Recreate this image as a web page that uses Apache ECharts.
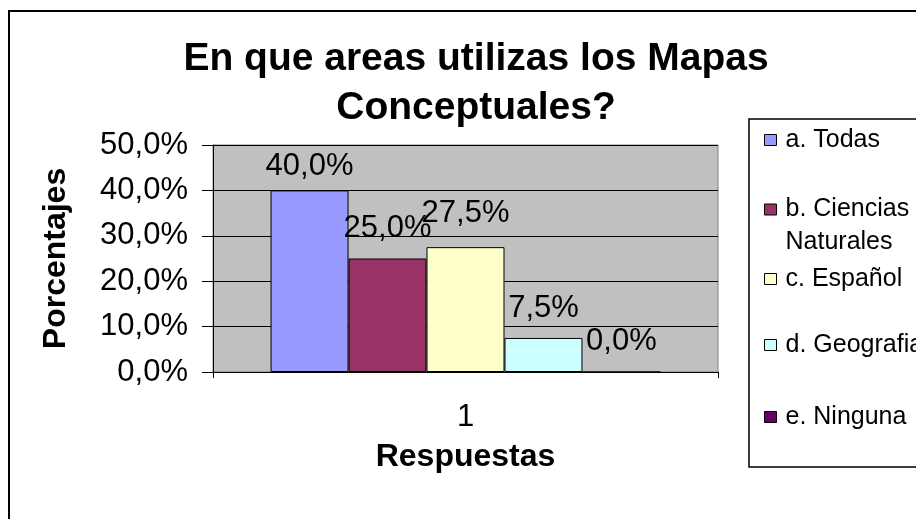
<!DOCTYPE html>
<html>
<head>
<meta charset="utf-8">
<script src="https://cdn.jsdelivr.net/npm/echarts@6/dist/echarts.min.js"></script>
<style>
  html, body { margin: 0; padding: 0; background: #fff; }
  #chart { width: 916px; height: 519px; }
</style>
</head>
<body>
<div id="chart"></div>
<script>
// datos
const categories = ['1']
const seriesNames = ['a. Todas', 'b. Ciencias\nNaturales', 'c. Español', 'd. Geografia', 'e. Ninguna']
const seriesValues = [40, 25, 27.5, 7.5, 0]
const seriesColors = ['#9999FF', '#993366', '#FFFFCC', '#CCFFFF', '#660066']
const yTicks = [0, 10, 20, 30, 40, 50]

const FONT = '"Liberation Sans", Arial, sans-serif'
const fmt = v => v.toFixed(1).replace('.', ',') + '%'

const myChart = echarts.init(document.getElementById('chart'))

// posicion vertical de cada entrada de la leyenda
const legendTops = [121, 155, 260, 326, 398]
// separacion de las etiquetas sobre cada barra
const labelDist = [8, 15, 18, 14, 15]

const series = seriesNames.map((name, i) => ({
  name: name,
  type: 'bar',
  data: [seriesValues[i]],
  barGap: '0%',
  barCategoryGap: '22.8%',
  itemStyle: { color: seriesColors[i], borderColor: '#000', borderWidth: 1 },
  label: {
    show: true,
    position: 'top',
    distance: labelDist[i],
    fontFamily: FONT,
    fontSize: 31,
    color: '#000',
    formatter: p => fmt(p.value)
  }
}))

// una leyenda por serie para poder separar las entradas como en el original
const legends = seriesNames.map((name, i) => {
  const twoLines = name.indexOf('\n') >= 0
  return {
    data: [name],
    left: 759,
    top: legendTops[i],
    orient: 'vertical',
    icon: 'rect',
    itemWidth: 12,
    itemHeight: 11,
    itemStyle: { borderColor: '#000', borderWidth: 1 },
    selectedMode: false,
    // linea vacia arriba para que el icono quede junto a la primera linea
    formatter: n => twoLines ? '\n' + n : n,
    textStyle: {
      fontFamily: FONT,
      fontSize: 25,
      color: '#000',
      lineHeight: twoLines ? 33 : 28,
      padding: [0, 0, 0, 4]
    }
  }
})

const option = {
  animation: false,
  backgroundColor: '#fff',
  title: {
    text: 'En que areas utilizas los Mapas\nConceptuales?',
    left: 471,
    top: 30,
    textAlign: 'center',
    textStyle: {
      fontFamily: FONT,
      fontSize: 39,
      fontWeight: 'bold',
      color: '#000',
      lineHeight: 49
    }
  },
  legend: legends,
  grid: {
    left: 213,
    right: 198,
    top: 145,
    bottom: 147,
    show: true,
    backgroundColor: '#C0C0C0',
    borderColor: '#808080',
    borderWidth: 1
  },
  xAxis: {
    type: 'category',
    data: categories,
    name: 'Respuestas',
    nameLocation: 'middle',
    nameGap: 69,
    nameTextStyle: { fontFamily: FONT, fontSize: 32, fontWeight: 'bold', color: '#000' },
    axisLine: { lineStyle: { color: '#000', width: 1 } },
    axisTick: { show: true, length: 6, lineStyle: { color: '#000' } },
    axisLabel: { fontFamily: FONT, fontSize: 31, color: '#000', margin: 30 }
  },
  yAxis: {
    type: 'value',
    min: yTicks[0],
    max: yTicks[yTicks.length - 1],
    interval: 10,
    name: 'Porcentajes',
    nameLocation: 'middle',
    nameRotate: 90,
    nameGap: 141,
    nameTextStyle: { fontFamily: FONT, fontSize: 32, fontWeight: 'bold', color: '#000' },
    axisLine: { show: true, lineStyle: { color: '#000', width: 1 } },
    axisTick: { show: true, length: 11, lineStyle: { color: '#000' } },
    splitLine: { show: true, lineStyle: { color: '#000', width: 1 } },
    axisLabel: { fontFamily: FONT, fontSize: 31, color: '#000', margin: 25, formatter: v => fmt(v) }
  },
  series: series,
  graphic: [
    // marco exterior
    { type: 'rect', silent: true, z: -1, shape: { x: 9, y: 11, width: 1000, height: 1000 }, style: { fill: 'none', stroke: '#000', lineWidth: 2 } },
    // marco de la leyenda
    { type: 'rect', silent: true, shape: { x: 749, y: 119, width: 400, height: 348 }, style: { fill: 'none', stroke: '#000', lineWidth: 1.5 } }
  ]
}

myChart.setOption(option)
</script>
</body>
</html>
